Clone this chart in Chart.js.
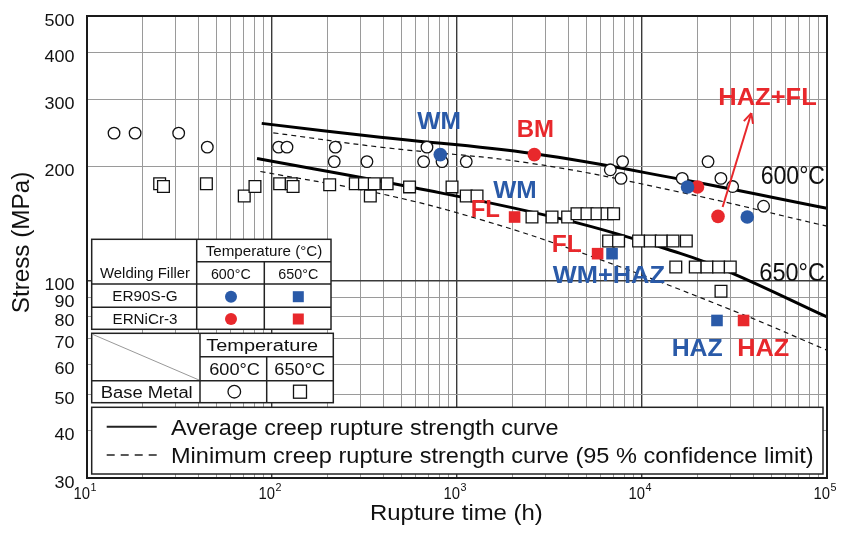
<!DOCTYPE html>
<html>
<head>
<meta charset="utf-8">
<script src="https://cdn.jsdelivr.net/npm/chart.js@4.4.1/dist/chart.umd.min.js"></script>
<style>
    html, body { margin: 0; padding: 0; background: #fff; }
</style>
</head>
<body>
<canvas id="creep" width="842" height="539"></canvas>
<script>
// tick labels
const xTickExp = [1, 2, 3, 4, 5];
const yTickLabels = [30, 40, 50, 60, 70, 80, 90, 100, 200, 300, 400, 500];

// base metal 600C (open circles)
const bm600Time = [14, 18.2, 31.3, 44.7, 108.6, 120.5, 220, 217, 326, 688, 660, 830, 1122, 6740, 7855, 7700, 16500, 22750, 26700, 30900, 45400];
const bm600Stress = [245, 245, 245, 225, 225, 225, 225, 206, 206, 225, 206, 206, 206, 196, 206, 186, 186, 206, 186, 177, 157];

// base metal 650C (open squares)
const bm650Time = [24.7, 25.9, 44.2, 70.8, 80.9, 110, 127, 130, 205, 282, 316, 340, 357, 419, 554, 940, 1122, 1283,
    2543, 3263, 3963, 4453, 5042, 5712, 6470, 7022, 6600, 7473, 9585, 11090, 12710, 14710, 17360,
    15230, 19410, 22450, 25950, 30000, 26730];
const bm650Stress = [180, 177, 180, 167, 177, 180, 180, 177, 179, 180, 180, 167, 180, 180, 176.6, 176.6, 167, 167,
    147, 147, 147, 150, 150, 150, 150, 150, 127, 127, 127, 127, 127, 127, 127,
    108.4, 108.4, 108.4, 108.4, 108.4, 93.5];

// weld joints
const er90600Time = [812, 17630, 37070];
const er90600Stress = [215, 176.5, 147];
const er90650Time = [6887, 25430];
const er90650Stress = [117.6, 78.3];
const erni600Time = [2618, 19950, 25760];
const erni600Stress = [215, 176.5, 147.6];
const erni650Time = [2048, 5754, 35400];
const erni650Stress = [147, 117.6, 78.3];

// curves
const avg600Time = [88, 385, 2618, 16100, 100000];
const avg600Stress = [260, 239, 216, 185, 155];
const min600Time = [101.6, 385, 2490, 16100, 100000];
const min600Stress = [245.5, 225, 204, 171, 139];
const avg650Time = [83, 580, 3947, 16100, 30000, 100000];
const avg650Stress = [210, 176, 144, 117.8, 105, 80];
const min650Time = [86.5, 385, 1387, 5454, 34000, 100000];
const min650Stress = [194, 169.5, 144, 115.2, 81.7, 65.3];

const BLUE = '#2a5aa8';
const RED = '#e8282c';

function pts(xs, ys) {
    return xs.map((x, i) => ({x: x, y: ys[i]}));
}

let xGrid = [];
for (let e = 1; e < 5; e++) {
    for (let m = 1; m < 10; m++) xGrid.push(m * Math.pow(10, e));
}
xGrid.push(100000);

function isPow10(v) {
    let l = Math.log10(v);
    return Math.abs(l - Math.round(l)) < 1e-9;
}

function txt(ctx, text, x, y, font, color, w, align) {
    ctx.save();
    ctx.font = font;
    ctx.fillStyle = color;
    ctx.textBaseline = 'alphabetic';
    ctx.textAlign = align || 'left';
    let m = ctx.measureText(text).width;
    let s = w ? w / m : 1;
    ctx.translate(x, y);
    ctx.scale(s, 1);
    ctx.fillText(text, 0, 0);
    ctx.restore();
}

function line(ctx, x1, y1, x2, y2) {
    ctx.beginPath();
    ctx.moveTo(x1, y1);
    ctx.lineTo(x2, y2);
    ctx.stroke();
}

const FONT = '"Liberation Sans", Arial, sans-serif';

const decor = {
    id: 'decor',
    afterDraw(chart) {
        const ctx = chart.ctx;
        const a = chart.chartArea;
        const xs = chart.scales.x, ys = chart.scales.y;

        // frame
        ctx.save();
        ctx.strokeStyle = '#1a1a1a';
        ctx.lineWidth = 2;
        ctx.strokeRect(a.left, a.top, a.right - a.left, a.bottom - a.top);
        ctx.restore();

        // y tick labels
        yTickLabels.forEach(v => {
            txt(ctx, String(v), 74.5, ys.getPixelForValue(v) + 9.5, '16px ' + FONT, '#111', String(v).length * 10, 'right');
        });
        // x tick labels 10^n
        xTickExp.forEach(e => {
            let px = xs.getPixelForValue(Math.pow(10, e));
            txt(ctx, '10', px + 3, 499, '16px ' + FONT, '#111', 16.5, 'right');
            txt(ctx, String(e), px + 3.5, 491, '11px ' + FONT, '#111', 6, 'left');
        });

        // axis titles
        txt(ctx, 'Rupture time (h)', 456.4, 520, '22px ' + FONT, '#111', 172.7, 'center');
        ctx.save();
        ctx.translate(28.5, 242.5);
        ctx.rotate(-Math.PI / 2);
        txt(ctx, 'Stress (MPa)', 0, 0, '23px ' + FONT, '#111', 141.6, 'center');
        ctx.restore();

        // table 1: welding filler
        ctx.save();
        ctx.fillStyle = '#fff';
        ctx.fillRect(91.7, 239.3, 239.3, 90);
        ctx.strokeStyle = '#222';
        ctx.lineWidth = 1.5;
        ctx.strokeRect(91.7, 239.3, 239.3, 90);
        line(ctx, 196.7, 239.3, 196.7, 329.3);
        line(ctx, 264.3, 261.7, 264.3, 329.3);
        line(ctx, 196.7, 261.7, 331, 261.7);
        line(ctx, 91.7, 284, 331, 284);
        line(ctx, 91.7, 307.3, 331, 307.3);
        ctx.restore();
        txt(ctx, 'Welding Filler', 145, 278, '14px ' + FONT, '#111', 90, 'center');
        txt(ctx, 'Temperature (°C)', 264, 256, '14px ' + FONT, '#111', 116.7, 'center');
        txt(ctx, '600°C', 230.8, 278.5, '14px ' + FONT, '#111', 39.7, 'center');
        txt(ctx, '650°C', 298.3, 278.5, '14px ' + FONT, '#111', 40, 'center');
        txt(ctx, 'ER90S-G', 145, 301, '14px ' + FONT, '#111', 65.4, 'center');
        txt(ctx, 'ERNiCr-3', 145, 323.8, '14px ' + FONT, '#111', 65, 'center');
        ctx.save();
        ctx.fillStyle = BLUE;
        ctx.beginPath(); ctx.arc(231, 296.7, 6, 0, Math.PI * 2); ctx.fill();
        ctx.fillRect(292.8, 291.2, 11, 11);
        ctx.fillStyle = RED;
        ctx.beginPath(); ctx.arc(231, 319, 6, 0, Math.PI * 2); ctx.fill();
        ctx.fillRect(292.8, 313.5, 11, 11);
        ctx.restore();

        // table 2: base metal
        ctx.save();
        ctx.fillStyle = '#fff';
        ctx.fillRect(91.7, 333.3, 241.6, 69.4);
        ctx.strokeStyle = '#999';
        ctx.lineWidth = 1;
        line(ctx, 93, 334.5, 199, 380);
        ctx.strokeStyle = '#222';
        ctx.lineWidth = 1.5;
        ctx.strokeRect(91.7, 333.3, 241.6, 69.4);
        line(ctx, 200, 333.3, 200, 402.7);
        line(ctx, 266.7, 356.7, 266.7, 402.7);
        line(ctx, 200, 356.7, 333.3, 356.7);
        line(ctx, 91.7, 380.7, 333.3, 380.7);
        ctx.restore();
        txt(ctx, 'Temperature', 262.2, 351, '16px ' + FONT, '#111', 112, 'center');
        txt(ctx, '600°C', 234.6, 375, '16px ' + FONT, '#111', 50.7, 'center');
        txt(ctx, '650°C', 299.7, 375, '16px ' + FONT, '#111', 50.7, 'center');
        txt(ctx, 'Base Metal', 146.7, 397.5, '16px ' + FONT, '#111', 92, 'center');
        ctx.save();
        ctx.strokeStyle = '#111';
        ctx.lineWidth = 1.3;
        ctx.beginPath(); ctx.arc(234.3, 391.7, 6.3, 0, Math.PI * 2); ctx.stroke();
        ctx.strokeRect(293.5, 385.2, 13, 13);
        ctx.restore();

        // legend box
        ctx.save();
        ctx.fillStyle = '#fff';
        ctx.fillRect(91.7, 407.3, 731.3, 66.7);
        ctx.strokeStyle = '#222';
        ctx.lineWidth = 1.5;
        ctx.strokeRect(91.7, 407.3, 731.3, 66.7);
        ctx.lineWidth = 2;
        line(ctx, 106.7, 426.7, 156.7, 426.7);
        ctx.lineWidth = 1.5;
        ctx.setLineDash([8, 6]);
        line(ctx, 106.7, 455, 158, 455);
        ctx.restore();
        txt(ctx, 'Average creep rupture strength curve', 171, 435, '22px ' + FONT, '#111', 387.5, 'left');
        txt(ctx, 'Minimum creep rupture strength curve (95 % confidence limit)', 171, 463.3, '22px ' + FONT, '#111', 642.6, 'left');

        // annotations
        const B = 'bold 24px ' + FONT;
        txt(ctx, 'WM', 417.3, 129.3, B, BLUE, 43.7);
        txt(ctx, 'BM', 516.7, 136.7, B, RED, 37.3);
        txt(ctx, 'WM', 493.3, 198.3, B, BLUE, 43.4);
        txt(ctx, 'FL', 470.7, 216.7, B, RED, 29.3);
        txt(ctx, 'FL', 551.7, 251.7, B, RED, 30);
        txt(ctx, 'WM+HAZ', 552.7, 282.7, B, BLUE, 112.3);
        txt(ctx, 'HAZ', 671.7, 356, B, BLUE, 51);
        txt(ctx, 'HAZ', 737.3, 356, B, RED, 52);
        txt(ctx, 'HAZ+FL', 718.3, 105, B, RED, 98.4);
        txt(ctx, '600°C', 760.7, 184, '25px ' + FONT, '#111', 64.3);
        txt(ctx, '650°C', 759.3, 281, '25px ' + FONT, '#111', 65.7);

        // arrow from HAZ+FL point
        let px = xs.getPixelForValue(erni600Time[2]);
        let py = ys.getPixelForValue(erni600Stress[2]);
        let x1 = px + 4.6, y1 = py - 9.3, x2 = px + 33.3, y2 = py - 103.3;
        let ang = Math.atan2(y2 - y1, x2 - x1);
        ctx.save();
        ctx.strokeStyle = RED;
        ctx.lineWidth = 2;
        line(ctx, x1, y1, x2, y2);
        line(ctx, x2, y2, x2 - 11 * Math.cos(ang - 0.45), y2 - 11 * Math.sin(ang - 0.45));
        line(ctx, x2, y2, x2 - 11 * Math.cos(ang + 0.45), y2 - 11 * Math.sin(ang + 0.45));
        ctx.restore();
    }
};

function gridColor(c) {
    return isPow10(c.tick.value) ? '#3a3a3a' : '#9a9a9a';
}
function gridWidth(c) {
    return isPow10(c.tick.value) ? 1.4 : 1;
}

new Chart(document.getElementById('creep'), {
    type: 'scatter',
    data: {
        datasets: [
            {data: pts(er90600Time, er90600Stress), pointStyle: 'circle', pointRadius: 6.8, backgroundColor: BLUE, borderWidth: 0},
            {data: pts(erni600Time, erni600Stress), pointStyle: 'circle', pointRadius: 6.8, backgroundColor: RED, borderWidth: 0},
            {data: pts(er90650Time, er90650Stress), pointStyle: 'rect', pointRadius: 8.2, backgroundColor: BLUE, borderWidth: 0},
            {data: pts(erni650Time, erni650Stress), pointStyle: 'rect', pointRadius: 8.2, backgroundColor: RED, borderWidth: 0},
            {data: pts(bm600Time, bm600Stress), pointStyle: 'circle', pointRadius: 5.8, backgroundColor: '#fff', borderColor: '#111', borderWidth: 1.3},
            {data: pts(bm650Time, bm650Stress), pointStyle: 'rect', pointRadius: 8.3, backgroundColor: '#fff', borderColor: '#111', borderWidth: 1.3},
            {data: pts(avg600Time, avg600Stress), showLine: true, pointRadius: 0, borderColor: '#000', borderWidth: 3, tension: 0.4},
            {data: pts(avg650Time, avg650Stress), showLine: true, pointRadius: 0, borderColor: '#000', borderWidth: 3, tension: 0.4},
            {data: pts(min600Time, min600Stress), showLine: true, pointRadius: 0, borderColor: '#111', borderWidth: 1.2, borderDash: [5, 4], tension: 0.4},
            {data: pts(min650Time, min650Stress), showLine: true, pointRadius: 0, borderColor: '#111', borderWidth: 1.2, borderDash: [5, 4], tension: 0.4}
        ]
    },
    options: {
        responsive: false,
        animation: false,
        events: [],
        layout: {padding: {left: 87, right: 15, top: 16, bottom: 61}},
        plugins: {legend: {display: false}, tooltip: {enabled: false}},
        scales: {
            x: {
                type: 'logarithmic', min: 10, max: 100000,
                afterBuildTicks: s => { s.ticks = xGrid.map(v => ({value: v})); },
                ticks: {display: false},
                grid: {drawTicks: false, color: gridColor, lineWidth: gridWidth},
                border: {display: false}
            },
            y: {
                type: 'logarithmic', min: 30, max: 500,
                afterBuildTicks: s => { s.ticks = yTickLabels.map(v => ({value: v})); },
                ticks: {display: false},
                grid: {drawTicks: false, color: gridColor, lineWidth: gridWidth},
                border: {display: false}
            }
        }
    },
    plugins: [decor]
});
</script>
</body>
</html>
